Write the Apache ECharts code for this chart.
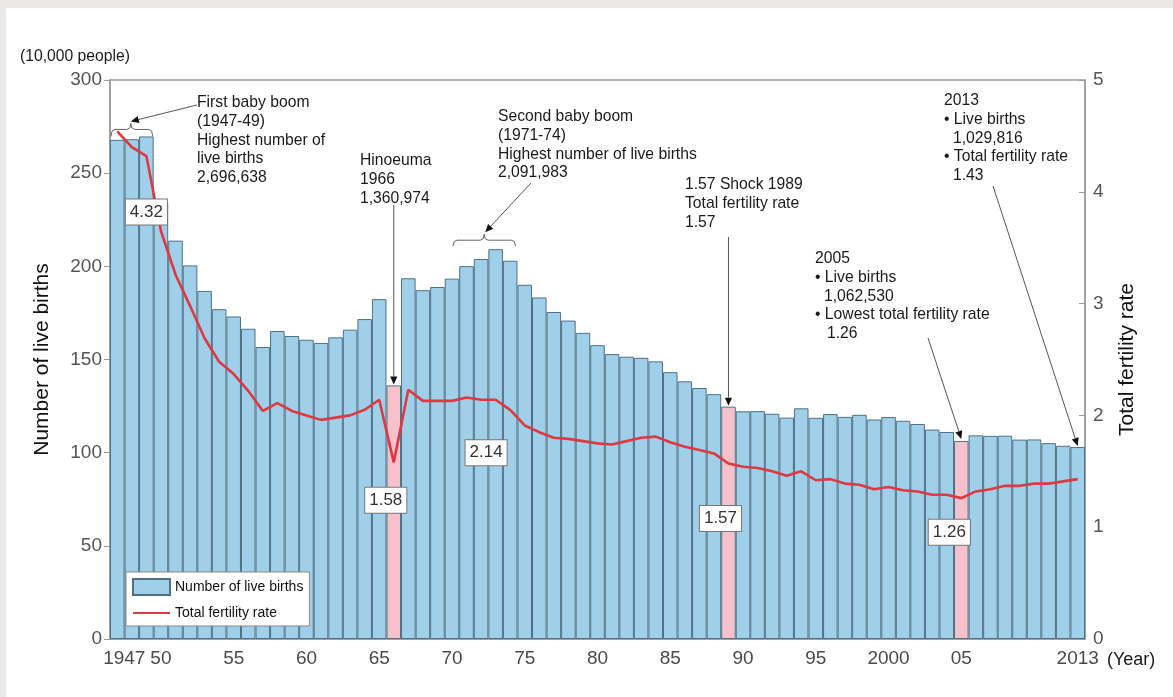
<!DOCTYPE html>
<html><head><meta charset="utf-8">
<script src="https://cdn.jsdelivr.net/npm/echarts@6/dist/echarts.min.js"></script>
<style>
html,body{margin:0;padding:0;background:#ebe8e7;width:1173px;height:697px;overflow:hidden;}
#wrap{position:absolute;left:6px;top:8px;right:0;bottom:0;background:#fff;}
#chart{position:absolute;left:0;top:0;width:1173px;height:697px;}
</style></head><body><div id="wrap"></div><div id="chart"></div>
<script>
const years = ['1947','1948','1949','1950','1951','1952','1953','1954','1955','1956','1957','1958','1959','1960','1961','1962','1963','1964','1965','1966','1967','1968','1969','1970','1971','1972','1973','1974','1975','1976','1977','1978','1979','1980','1981','1982','1983','1984','1985','1986','1987','1988','1989','1990','1991','1992','1993','1994','1995','1996','1997','1998','1999','2000','2001','2002','2003','2004','2005','2006','2007','2008','2009','2010','2011','2012','2013'];
// live births, 10,000 people
const births = [267.9,268.2,269.7,233.8,213.8,200.5,186.8,177.0,173.1,166.5,156.7,165.3,162.6,160.6,158.9,161.9,166.0,171.7,182.4,136.1,193.6,187.2,188.9,193.4,200.1,203.9,209.2,203.0,190.1,183.3,175.5,170.9,164.3,157.7,152.9,151.5,150.9,149.0,143.2,138.3,134.7,131.4,124.7,122.2,122.3,120.9,118.8,123.8,118.7,120.7,119.2,120.3,117.8,119.1,117.1,115.4,112.4,111.1,106.3,109.3,109.0,109.1,107.0,107.1,105.1,103.7,103.0];
// total fertility rate
const tfr = [4.54,4.40,4.32,3.65,3.26,2.98,2.69,2.48,2.37,2.22,2.04,2.11,2.04,2.00,1.96,1.98,2.00,2.05,2.14,1.58,2.23,2.13,2.13,2.13,2.16,2.14,2.14,2.05,1.91,1.85,1.80,1.79,1.77,1.75,1.74,1.77,1.80,1.81,1.76,1.72,1.69,1.66,1.57,1.54,1.53,1.50,1.46,1.50,1.42,1.43,1.39,1.38,1.34,1.36,1.33,1.32,1.29,1.29,1.26,1.32,1.34,1.37,1.37,1.39,1.39,1.41,1.43];
const highlightYears = ['1966','1989','2005'];
const xTickLabels = {'1947':'1947','1950':'50','1955':'55','1960':'60','1965':'65','1970':'70','1975':'75','1980':'80','1985':'85','1990':'90','1995':'95','2000':'2000','2005':'05','2013':'2013'};
const rateLabelYears = ['1949','1966','1972','1989','2005'];
const seriesNames = ['Number of live births','Total fertility rate'];
const noteFirstBoom = ['First baby boom','(1947-49)','Highest number of','live births','2,696,638'];
const noteHinoeuma = ['Hinoeuma','1966','1,360,974'];
const noteSecondBoom = ['Second baby boom','(1971-74)','Highest number of live births','2,091,983'];
const noteShock = ['1.57 Shock 1989','Total fertility rate','1.57'];
const note2005 = ['2005','• Live births','1,062,530','• Lowest total fertility rate','1.26'];
const note2013 = ['2013','• Live births','1,029,816','• Total fertility rate','1.43'];

const FONT = '"Liberation Sans", Arial, sans-serif';
const chart = echarts.init(document.getElementById('chart'));
const BLUE = '#9fcfe9', PINK = '#f6c1cb', EDGE = '#4e7186', RED = '#df3840', GREY = '#9a9a9a';

chart.setOption({
  backgroundColor: 'transparent',
  animation: false,
  textStyle: {fontFamily: FONT},
  grid: {left: 110, right: 88, top: 80, bottom: 58, show: true, borderColor: GREY, borderWidth: 1.5, backgroundColor: 'transparent'},
  legend: {
    left: 126, top: 572, orient: 'vertical', itemWidth: 37, itemHeight: 16, itemGap: 10,
    backgroundColor: '#fff', borderColor: '#888', borderWidth: 1, padding: [6, 6, 6, 6],
    textStyle: {fontSize: 14, color: '#111', fontFamily: FONT},
    data: [
      {name: seriesNames[0], icon: 'rect'},
      {name: seriesNames[1], itemStyle: {color: 'rgba(0,0,0,0)', borderWidth: 0, opacity: 0}}
    ]
  },
  xAxis: {
    type: 'category', data: years, boundaryGap: true,
    axisLine: {lineStyle: {color: GREY, width: 1.5}},
    axisTick: {show: false},
    axisLabel: {
      interval: (i, v) => xTickLabels[v] !== undefined,
      formatter: v => v === '1947' ? '{s|' + xTickLabels[v] + '}' : (xTickLabels[v] || ''),
      rich: {s: {fontSize: 19, color: '#4a4a4a', padding: [0, 0, 0, 14], fontFamily: FONT}},
      fontSize: 19, color: '#4a4a4a', margin: 10, fontFamily: FONT
    }
  },
  yAxis: [
    {type: 'value', min: 0, max: 300, interval: 50,
     name: 'Number of live births', nameLocation: 'middle', nameRotate: 90, nameGap: 57,
     nameTextStyle: {fontSize: 21, color: '#111', fontFamily: FONT},
     axisLine: {show: true, lineStyle: {color: GREY, width: 1.5}},
     axisTick: {show: true, length: 6, lineStyle: {color: GREY}},
     splitLine: {show: false},
     axisLabel: {fontSize: 19, color: '#555', margin: 8, fontFamily: FONT}},
    {type: 'value', min: 0, max: 5, interval: 1, position: 'right',
     name: 'Total fertility rate', nameLocation: 'middle', nameRotate: 90, nameGap: 32,
     nameTextStyle: {fontSize: 21, color: '#111', fontFamily: FONT},
     axisLine: {show: true, lineStyle: {color: GREY, width: 1.5}},
     axisTick: {show: true, inside: true, length: 6, lineStyle: {color: GREY}},
     splitLine: {show: false},
     axisLabel: {fontSize: 19, color: '#555', margin: 8, fontFamily: FONT}}
  ],
  series: [
    {name: seriesNames[0], type: 'bar', barCategoryGap: '0%',
     itemStyle: {color: BLUE, borderColor: EDGE, borderWidth: 1},
     data: births.map((v, i) => highlightYears.includes(years[i]) ? {value: v, itemStyle: {color: PINK}} : v),
     z: 2},
    {name: seriesNames[1], type: 'line', yAxisIndex: 1, data: tfr, symbol: 'none',
     lineStyle: {color: RED, width: 2.6}, itemStyle: {color: RED}, z: 5}
  ]
});

// ---- annotations (positions computed through the axes) ----
const P = (y, v) => chart.convertToPixel({xAxisIndex: 0, yAxisIndex: 0}, [y, v]);
const PR = (y, v) => chart.convertToPixel({xAxisIndex: 0, yAxisIndex: 1}, [y, v]);
const bw = (P('1948', 0)[0] - P('1947', 0)[0]);
const idx = y => years.indexOf(y);
const g = [];
const LINEC = '#555';
function arrow(x1, y1, x2, y2) {
  const dx = x2 - x1, dy = y2 - y1, L = Math.hypot(dx, dy), ux = dx / L, uy = dy / L;
  const hl = 8, hw = 3.6;
  const bx = x2 - ux * hl, by = y2 - uy * hl;
  g.push({type: 'line', shape: {x1, y1, x2: bx, y2: by}, style: {stroke: LINEC, lineWidth: 1}, z: 20});
  g.push({type: 'polygon', shape: {points: [[x2, y2], [bx - uy * hw, by + ux * hw], [bx + uy * hw, by - ux * hw]]}, style: {fill: '#111'}, z: 20});
}
function brace(x0, x1, xm, yEnd, yTop, yTip) {
  g.push({type: 'polyline', shape: {points: [[x0, yEnd], [x0 + 1, yTop + 1.5], [x0 + 4, yTop], [xm - 4, yTop], [xm - 1, yTop - 1.5], [xm, yTip], [xm + 1, yTop - 1.5], [xm + 4, yTop], [x1 - 4, yTop], [x1 - 1, yTop + 1.5], [x1, yEnd]]}, style: {stroke: '#666', lineWidth: 1, fill: null}, z: 20});
}
function note(lines, x, y, indents) {
  lines.forEach((t, i) => g.push({type: 'text', x: x + (indents ? indents[i] : 0), y: y + i * 18.6, z: 20,
    style: {text: t, font: '15.7px ' + FONT, fill: '#1a1a1a', textVerticalAlign: 'middle', verticalAlign: 'middle'}}));
}

// first baby boom brace
{
  const a = P('1947', births[0]), c = P('1949', births[2]);
  const x0 = a[0] - bw / 2 + 1, x1 = c[0] + bw / 2 - 1, yEnd = c[1];
  brace(x0, x1, (x0 + x1) / 2 - 1, yEnd, yEnd - 7, yEnd - 13);
  arrow(197, 105, (x0 + x1) / 2 - 1, yEnd - 15);
}
note(noteFirstBoom, 197, 103);
// Hinoeuma
{
  const p = P('1966', births[idx('1966')]);
  arrow(p[0], 205, p[0], p[1] - 1);
}
note(noteHinoeuma, 360, 161);
// second baby boom brace
{
  const a = P('1970', 0), c = P('1974', 0), top = P('1973', births[idx('1973')]);
  const x0 = a[0] + 1, x1 = c[0] + bw / 2 - 2, yEnd = top[1] - 3;
  const xm = (x0 + x1) / 2;
  brace(x0, x1, xm, yEnd, yEnd - 6, yEnd - 12);
  arrow(531, 183, xm + 1, yEnd - 14);
}
note(noteSecondBoom, 498, 117);
// 1.57 shock
{
  const p = P('1989', births[idx('1989')]);
  arrow(p[0], 237, p[0], p[1] - 1);
}
note(noteShock, 685, 185);
// 2005
{
  const p = P('2005', births[idx('2005')]);
  arrow(928, 338, p[0], p[1] - 2);
}
note(note2005, 815, 259, [0, 0, 9, 0, 12]);
// 2013
{
  const p = P('2013', births[idx('2013')]);
  arrow(993, 186, p[0], p[1] - 1);
}
note(note2013, 944, 101, [0, 0, 9, 0, 9]);

// fertility-rate value boxes
const labelOffsets = {'1949': [0, 56], '1966': [-8, 38], '1972': [5, 53], '1989': [-8, 55], '2005': [-12, 34]};
rateLabelYears.forEach(y => {
  const p = PR(y, tfr[idx(y)]);
  const o = labelOffsets[y];
  g.push({type: 'text', x: p[0] + o[0], y: p[1] + o[1], z: 30,
    style: {text: tfr[idx(y)].toFixed(2), font: '17px ' + FONT, fill: '#333',
      align: 'center', verticalAlign: 'middle', textAlign: 'center', textVerticalAlign: 'middle',
      backgroundColor: '#fff', borderColor: '#777', borderWidth: 1, padding: [4, 4, 3, 4], lineHeight: 18}});
});

// unit captions
g.push({type: 'text', x: 20, y: 57, z: 20, style: {text: '(10,000 people)', font: '15.7px ' + FONT, fill: '#1a1a1a', textVerticalAlign: 'middle', verticalAlign: 'middle'}});
g.push({type: 'text', x: 1107, y: 660, z: 20, style: {text: '(Year)', font: '18px ' + FONT, fill: '#1a1a1a', textVerticalAlign: 'middle', verticalAlign: 'middle'}});

chart.setOption({graphic: {elements: g}});
</script>
</body></html>
